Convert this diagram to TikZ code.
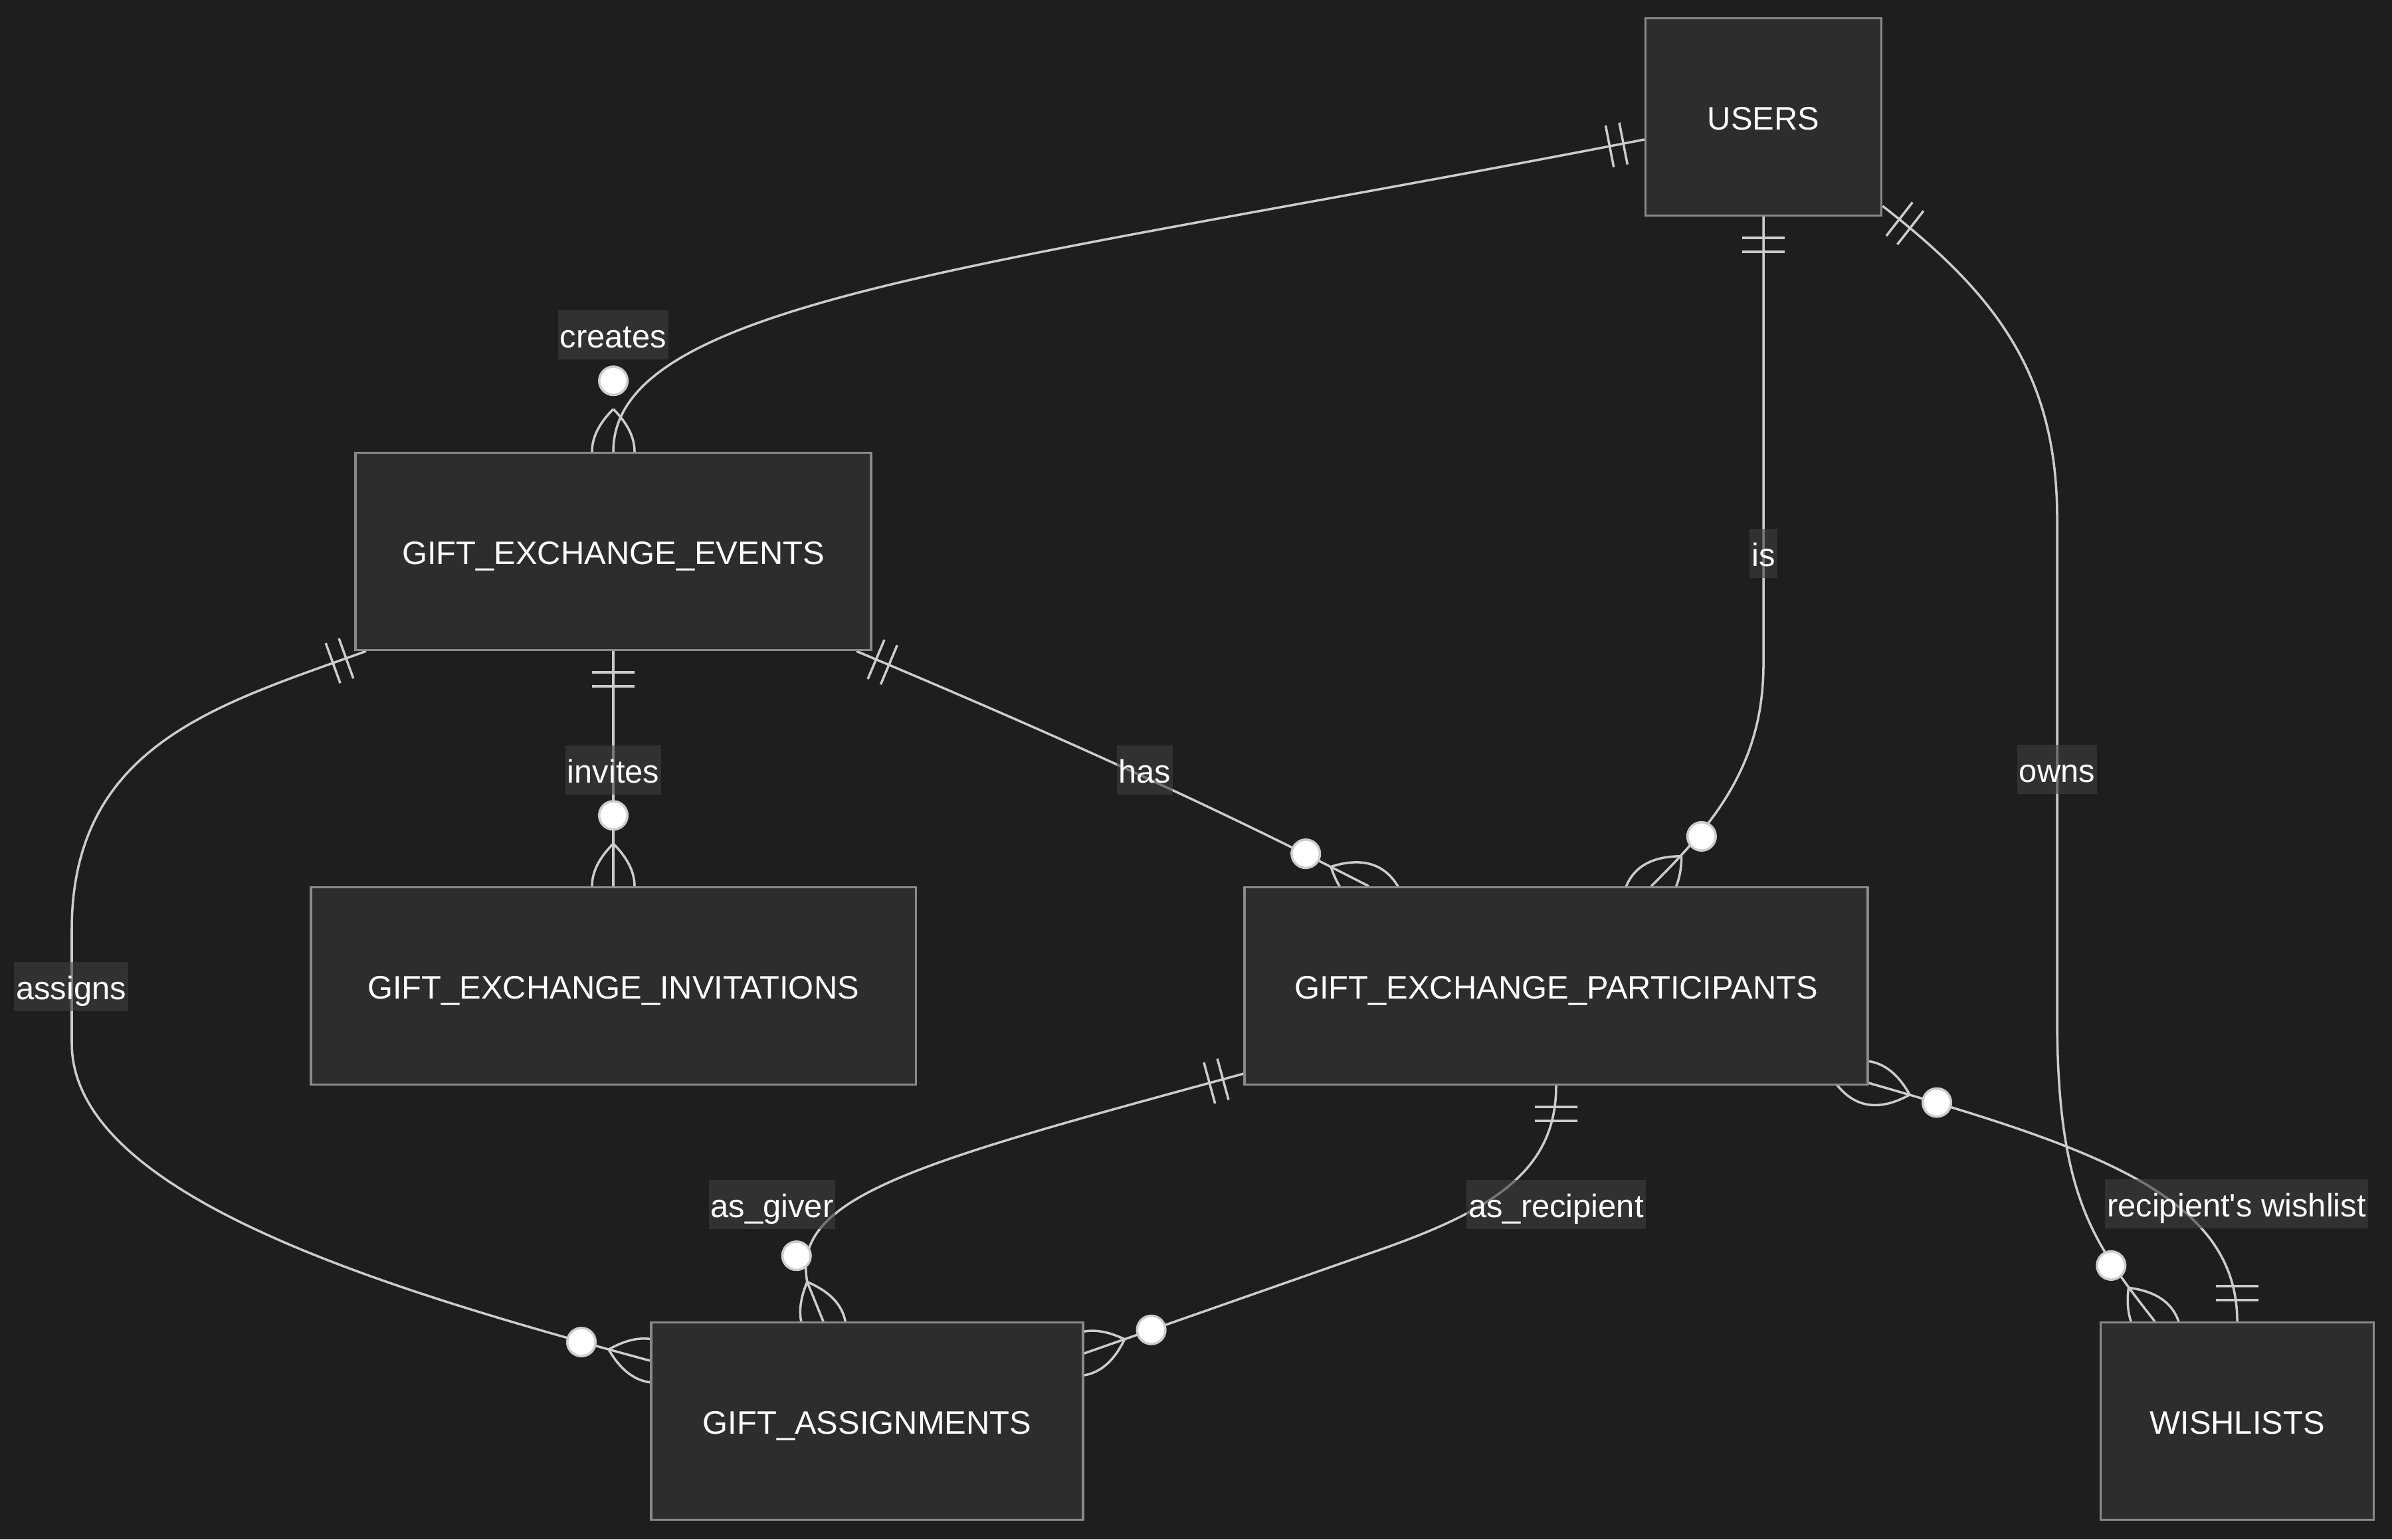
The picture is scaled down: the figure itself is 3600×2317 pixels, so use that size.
\documentclass[tikz,border=0pt]{standalone}
\usepackage{fontspec}
\setmainfont{Liberation Sans}
\usetikzlibrary{decorations.markings,calc}
\pgfdeclarelayer{bgl}
\pgfdeclarelayer{edgel}
\pgfsetlayers{bgl,edgel,main}
\definecolor{bgc}{HTML}{1E1E1E}
\definecolor{boxfill}{HTML}{2D2D2D}
\definecolor{boxline}{HTML}{8A8A8A}
\definecolor{linec}{HTML}{CCCCCC}
\definecolor{lblfill}{HTML}{3F3F3F}
\tikzset{
  entity/.style={rectangle, draw=boxline, fill=boxfill, line width=1pt, inner sep=0pt,
    text=white, font=\fontsize{13.9pt}{16pt}\selectfont, minimum height=2.965cm,
    text height=0.38cm, text depth=0cm},
  rlabel/.style={rectangle, fill=lblfill, fill opacity=0.6, text opacity=1, text=white,
    inner xsep=0.03cm, inner ysep=0pt, minimum height=0.74cm, text height=0.45cm,
    text depth=0.07cm, font=\fontsize{13.9pt}{16pt}\selectfont},
  rel/.style={draw=linec, line width=1pt},
  mk/.style={draw=linec, line width=1pt},
  oneA/.style={postaction={decorate,decoration={markings,mark=at position 0 with {
    \draw[mk] (0.32cm,-0.32cm)--(0.32cm,0.32cm) (0.53cm,-0.32cm)--(0.53cm,0.32cm);}}}},
  oneB/.style={postaction={decorate,decoration={markings,mark=at position 0.9999 with {
    \draw[mk] (-0.32cm,-0.32cm)--(-0.32cm,0.32cm) (-0.53cm,-0.32cm)--(-0.53cm,0.32cm);}}}},
  manyA/.style={postaction={decorate,decoration={markings,mark=at position 0 with {
    \draw[mk] (0.64cm,0cm) .. controls (0.2133cm,0.4267cm) and (-0.2133cm,0.4267cm) .. (-0.64cm,0cm)
      .. controls (-0.2133cm,-0.4267cm) and (0.2133cm,-0.4267cm) .. (0.64cm,0cm);
    \draw[mk, fill=white] (1.065cm,0cm) circle[radius=0.213cm];}}}},
  manyB/.style={postaction={decorate,decoration={markings,mark=at position 0.9999 with {
    \draw[mk] (-0.64cm,0cm) .. controls (-0.2133cm,0.4267cm) and (0.2133cm,0.4267cm) .. (0.64cm,0cm)
      .. controls (0.2133cm,-0.4267cm) and (-0.2133cm,-0.4267cm) .. (-0.64cm,0cm);
    \draw[mk, fill=white] (-1.065cm,0cm) circle[radius=0.213cm];}}}}
}
\begin{document}
\begin{tikzpicture}[x=0.01cm,y=-0.01cm]
\useasboundingbox (0,0) rectangle (3600,2317);
\begin{pgfonlayer}{bgl}
  \fill[bgc] (0,0) rectangle (3600,2317);
\end{pgfonlayer}

% entities
\node[entity, minimum width=3.55cm] (users) at (2654,176) {USERS};
\node[entity, minimum width=7.76cm] (events) at (923,830) {GIFT\_EXCHANGE\_EVENTS};
\node[entity, minimum width=9.10cm] (invit) at (923,1484) {GIFT\_EXCHANGE\_INVITATIONS};
\node[entity, minimum width=9.37cm] (partic) at (2342,1484) {GIFT\_EXCHANGE\_PARTICIPANTS};
\node[entity, minimum width=6.50cm] (assign) at (1305,2139) {GIFT\_ASSIGNMENTS};
\node[entity, minimum width=4.11cm] (wish) at (3367,2139) {WISHLISTS};

% relationship labels
\node[rlabel] (lcreates) at (923,504) {creates};
\node[rlabel] (lis) at (2654,833) {is};
\node[rlabel] (lowns) at (3096,1158) {owns};
\node[rlabel] (linvites) at (923,1159) {invites};
\node[rlabel] (lhas) at (1723,1159) {has};
\node[rlabel] (lassigns) at (107,1485) {assigns};
\node[rlabel] (lgiver) at (1162,1813) {as\_giver};
\node[rlabel] (lrecip) at (2342,1813) {as\_recipient};
\node[rlabel] (lwish) at (3366,1812) {recipient\textquotesingle s wishlist};

\begin{pgfonlayer}{edgel}
  % USERS -> EVENTS : creates
  \draw[rel, oneA, manyB] ([shift={(0,34)}]users.west)
    .. controls (1500,400) and (923,450) .. (events.north);
  % USERS -> PARTICIPANTS : is
  \draw[rel, oneA, manyB] (users.south) -- (2654,1000)
    .. controls (2654,1150) and (2580,1240) .. ([shift={(143,0)}]partic.north);
  % USERS -> WISHLISTS : owns
  \draw[rel, oneA, manyB] ([shift={(0,-16)}]users.south east)
    .. controls (3000,440) and (3096,560) .. (3096,780) -- (3096,1530)
    .. controls (3096,1800) and (3150,1870) .. ([shift={(-124,0)}]wish.north);
  % EVENTS -> INVITATIONS : invites
  \draw[rel, oneA, manyB] (events.south) -- (invit.north);
  % EVENTS -> PARTICIPANTS : has
  \draw[rel, oneA, manyB] ([shift={(-24,0)}]events.south east)
    .. controls (1550,1090) and (1800,1200) .. ([shift={(-282,0)}]partic.north);
  % EVENTS -> ASSIGNMENTS : assigns
  \draw[rel, oneA, manyB] ([shift={(18,0)}]events.south west)
    .. controls (330,1060) and (108,1120) .. (108,1400) -- (108,1570)
    .. controls (108,1800) and (580,1940) .. ([shift={(0,-91)}]assign.west);
  % PARTICIPANTS -> ASSIGNMENTS : as_giver
  \draw[rel, oneA, manyB] ([shift={(0,-18)}]partic.south west)
    .. controls (1380,1750) and (1190,1800) .. (1215,1930) -- ([shift={(-66,0)}]assign.north);
  % PARTICIPANTS -> ASSIGNMENTS : as_recipient
  \draw[rel, oneA, manyB] (partic.south)
    .. controls (2342,1760) and (2250,1820) .. (2080,1880) -- ([shift={(0,-102)}]assign.east);
  % PARTICIPANTS -> WISHLISTS : recipient's wishlist
  \draw[rel, manyA, oneB] ([shift={(0,-4)}]partic.south east)
    .. controls (3150,1727) and (3367,1800) .. (wish.north);
\end{pgfonlayer}
\end{tikzpicture}
\end{document}
